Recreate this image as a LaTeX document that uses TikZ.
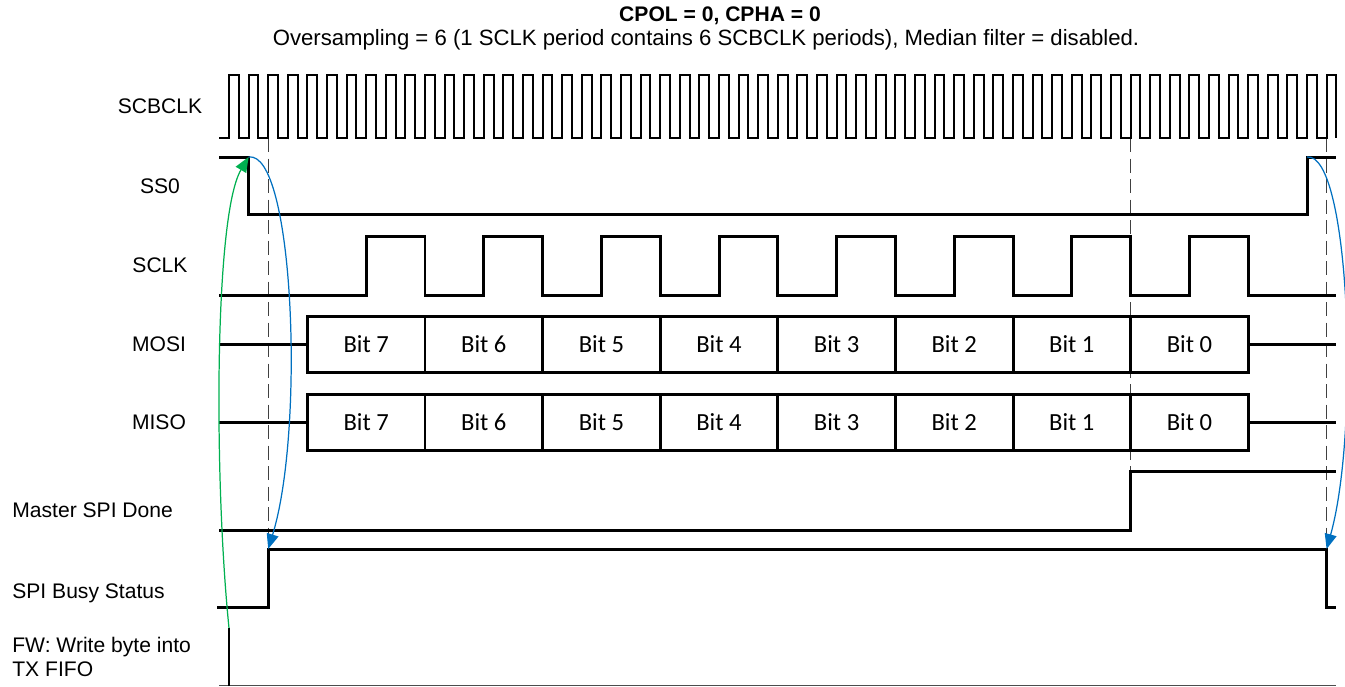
\documentclass[tikz,border=0pt]{standalone}
\usepackage{fontspec}
\setmainfont{Liberation Sans}
\newfontfamily\bitfont{Carlito}
\usetikzlibrary{arrows.meta,calc,positioning}
\definecolor{spiblue}{HTML}{0070C0}
\definecolor{spigreen}{HTML}{00B050}
\def\tz{229}
\def\pd{19.6}

\begin{document}
\begin{tikzpicture}[x=0.2mm,y=-0.2mm,
  sig/.style={line width=1.7pt},
  clk/.style={line width=1.1pt},
  guide/.style={line width=0.7pt,black!75,dash pattern=on 2.8mm off 1.3mm},
  lbl/.style={inner sep=0pt,font=\fontsize{12}{14}\selectfont},
  bit/.style={draw,line width=1.7pt,minimum width=23.52mm,minimum height=11.2mm,
    inner sep=0pt,font=\bitfont\fontsize{14}{16}\selectfont},
  arr/.style={line width=0.7pt,-{Triangle[length=3mm,width=2.4mm]}}]
  \useasboundingbox (0,0) rectangle (1345,686);
  % titles
  \node[lbl,font=\fontsize{12}{14}\selectfont\bfseries] (title) at (720,16)
    {CPOL = 0, CPHA = 0};
  \node[lbl,font=\fontsize{12.6}{14}\selectfont] (sub) at (706,40)
    {Oversampling = 6 (1 SCLK period contains 6 SCBCLK periods), Median filter = disabled.};
  % signal names
  \node[lbl] (lscb) at (160,106) {SCBCLK};
  \node[lbl] (lss) at (160,186) {SS0};
  \node[lbl] (lsclk) at (160,265) {SCLK};
  \node[lbl] (lmosi) at (159,344) {MOSI};
  \node[lbl] (lmiso) at (159,422) {MISO};
  \node[lbl,anchor=west] (ldone) at (12,510) {Master SPI Done};
  \node[lbl,anchor=west] (lbusy) at (12,593) {SPI Busy Status};
  \node[lbl,anchor=west,align=left,font=\fontsize{12}{13.7}\selectfont]
    (lfw) at (12,657) {FW: Write byte into\\TX FIFO};
  % guides
  \draw[guide] ({\tz+2*\pd},138) -- ({\tz+2*\pd},549);
  \draw[guide] ({\tz+46*\pd},138) -- ({\tz+46*\pd},471);
  \draw[guide] ({\tz+56*\pd},138) -- ({\tz+56*\pd},549);
  % SCBCLK
  \draw[clk] ({\tz-\pd/2},138) \foreach \k in {0,...,56} {
    -- ({\tz+\k*\pd},138) -- ++(0,-63) -- ++(\pd/2,0) -- ++(0,63)};
  % SS0
  \draw[sig] (219,157) -- ({\tz+\pd},157) coordinate (ssfall)
    -- ({\tz+\pd},214) -- ({\tz+55*\pd},214)
    -- ({\tz+55*\pd},157) coordinate (ssrise) -- (1336,157);
  % SCLK
  \draw[sig] (219,295) \foreach \j in {0,...,7} {
    -- ({\tz+(7+6*\j)*\pd},295) -- ++(0,-59) -- ++(3*\pd,0) -- ++(0,59)}
    -- (1336,295);
  % data bits
  \foreach \b [count=\j from 0] in {7,...,0} {
    \node[bit] (mosi\b) at ({\tz+(7+6*\j)*\pd},344) {Bit \b};
    \node[bit] (miso\b) at ({\tz+(7+6*\j)*\pd},422) {Bit \b};
  }
  \draw[sig] (219,344) -- (mosi7.west);
  \draw[sig] (mosi0.east) -- (1336,344);
  \draw[sig] (219,422) -- (miso7.west);
  \draw[sig] (miso0.east) -- (1336,422);
  % done / busy
  \draw[sig] (219,530) -- ({\tz+46*\pd},530) -- ({\tz+46*\pd},471) -- (1336,471);
  \draw[sig] (217,607) -- ({\tz+2*\pd},607)
    -- ({\tz+2*\pd},549) coordinate (busyup) -- ({\tz+56*\pd},549)
    coordinate (busydown) -- ({\tz+56*\pd},607) -- (1336,607);
  % firmware write
  \draw[line width=0.5pt,black!70] (219,685) -- (1336,685);
  \draw[sig] (229,686) -- (229,628) coordinate (fwtop);
  % causality
  \draw[arr,spigreen] (fwtop) .. controls (214,480) and (214,215) .. (ssfall);
  \draw[arr,spiblue] (ssfall) .. controls (294,150) and (305,430) .. (busyup);
  \draw[arr,spiblue] (ssrise) .. controls (1350,152) and (1360,430) .. (busydown);
\end{tikzpicture}
\end{document}
